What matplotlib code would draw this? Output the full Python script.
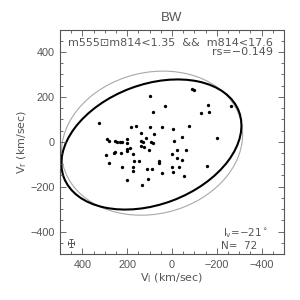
import numpy as np
import matplotlib
matplotlib.use('Agg')
import matplotlib.pyplot as plt
from matplotlib.patches import Ellipse
from matplotlib.ticker import MultipleLocator

plt.rcParams['font.family'] = ['Liberation Sans', 'DejaVu Sans']

#%% data (V_l, V_r in km/sec)
vl = [326, 100, -91, -100, 31, 85, -129, -161, -163, -262,
      289, 280, 253, 244, 232, 223, 202, 202, 182, 159,
      140, 97, 46, -6, -77, 116, 137, 131, 95, 83,
      80, 137, 127, 104, 295, 254, 257, 229, 202, 199,
      189, 173, 170, 149, 283, 222, 176, 176, 202, 134,
      110, 89, 109, 58, 57, 45, -1, -21, -9, -43,
      -62, -43, -22, -1, -6, -31, -55, -201, -158]
vr = [86, 206, 236, 233, 159, 132, 129, 166, 133, 159,
      11, 5, 5, 1, 1, 1, 11, -4, 66, 72,
      41, 66, 66, 57, 72, 17, 5, -2, 1, -4,
      37, -17, -25, -36, -57, -45, -51, -51, -33, -39,
      -28, -56, -84, -84, -94, -114, -111, -129, -170, -191,
      -123, -123, -166, -84, -96, -140, -53, -38, 2, 22,
      -36, -83, -71, -114, -136, -114, -154, 19, -106]

# ellipses: center, full width, full height, angle (deg)
ell_black = (92, -12, 835, 534, -20.6)
ell_gray = (89, -6, 818, 630, -13.8)

err_pos = (450, -450)
err_x = 13
err_y = 18

rs = -0.149
lv = -21
n_stars = 72

#%%
fig = plt.figure(figsize=(3, 3), dpi=100)
ax = fig.add_axes([0.2, 0.1533, 0.7467, 0.748])

gcol = '#555555'
dv = ['DejaVu Sans']

ax.add_patch(Ellipse(ell_gray[:2], ell_gray[2], ell_gray[3], angle=ell_gray[4],
                     fill=False, ec='#a8a8a8', lw=0.8))
ax.add_patch(Ellipse(ell_black[:2], ell_black[2], ell_black[3], angle=ell_black[4],
                     fill=False, ec='black', lw=1.5))
ax.plot(vl, vr, 'o', color='black', ms=2.4, mew=0)
ax.errorbar(err_pos[0], err_pos[1], xerr=err_x, yerr=err_y, color=gcol,
            lw=0.7, capsize=1.2, capthick=0.7)

ax.set_xlim(500, -500)
ax.set_ylim(-500, 500)
ax.xaxis.set_major_locator(MultipleLocator(200))
ax.xaxis.set_minor_locator(MultipleLocator(50))
ax.yaxis.set_major_locator(MultipleLocator(200))
ax.yaxis.set_minor_locator(MultipleLocator(50))
ax.tick_params(which='both', direction='in', top=True, right=True,
               color=gcol, labelcolor=gcol, labelsize=7.8, width=0.6)
ax.tick_params(which='major', length=4.5, pad=4)
ax.tick_params(which='minor', length=2.2)
for s in ax.spines.values():
    s.set_color(gcol)
    s.set_linewidth(0.8)

ax.set_xlabel('V$_\\mathregular{l}$ (km/sec)', fontsize=8, color=gcol,
              labelpad=1, family=dv)
ax.set_ylabel('V$_\\mathregular{r}$ (km/sec)', fontsize=8, color=gcol,
              labelpad=1, family=dv)
ax.set_title('BW', fontsize=9.5, color=gcol, pad=6)

ax.text(0.951, 0.928, 'm555\u22a1m814<1.35  &&  m814<17.6', transform=ax.transAxes,
        ha='right', va='baseline', fontsize=8, color=gcol, family=dv)
ax.text(0.951, 0.886, 'rs=\u2212%.3f' % abs(rs), transform=ax.transAxes,
        ha='right', va='baseline', fontsize=8, color=gcol, family=dv)
ax.text(0.728, 0.078, 'l$_\\mathregular{v}$=\u2212%d$^\\circ$' % abs(lv), transform=ax.transAxes,
        ha='left', va='baseline', fontsize=7.5, color=gcol, family=dv)
ax.text(0.719, 0.022, 'N=  %d' % n_stars, transform=ax.transAxes,
        ha='left', va='baseline', fontsize=7.5, color=gcol, family=dv)

fig.savefig('out.png', dpi=100)
